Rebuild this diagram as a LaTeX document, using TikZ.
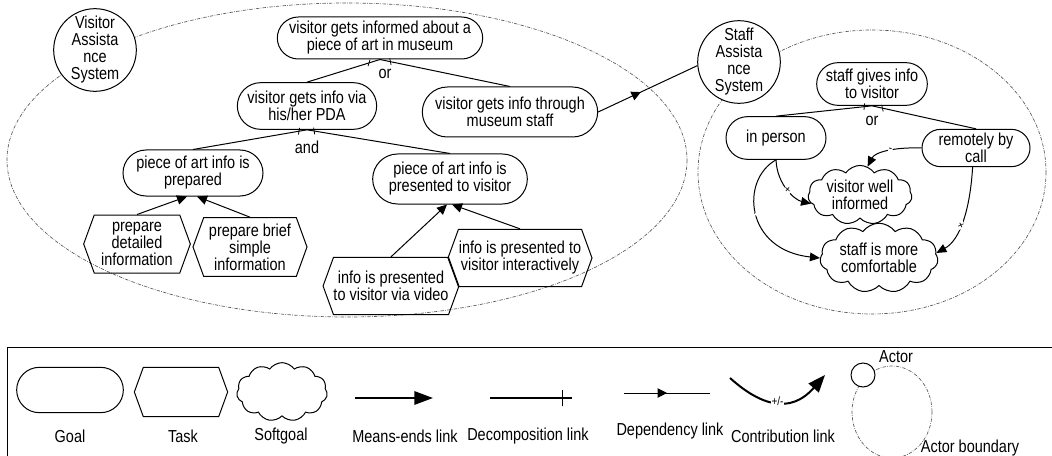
\documentclass[tikz,border=0pt]{standalone}
\usepackage{fontspec}
\setmainfont{Liberation Sans}[FakeStretch=0.835]
\usetikzlibrary{shapes.misc,shapes.symbols,arrows.meta,decorations.markings,calc}

\tikzset{every picture/.style={line width=0.75pt}}
\tikzset{
  goal/.style={draw, rounded rectangle, align=center, inner xsep=1pt, inner ysep=1pt},
  task/.style={draw, signal, signal to=west and east, signal pointer angle=140, align=center, inner xsep=0pt, inner ysep=1pt},
  softgoal/.style={draw, cloud, cloud puffs=11, cloud puff arc=110, aspect=2, align=center, inner sep=0pt},
  actor/.style={draw, circle, align=center, inner sep=0pt, fill=white},
  boundary/.style={draw=gray!70!black, line width=0.5pt, dash pattern=on 2.5pt off 1pt on 0.5pt off 1pt},
  meansend/.style={-{Triangle[length=7.5pt,width=7pt]}},
  contrib/.style={-{Triangle[length=7.5pt,width=6.5pt]}},
  depend/.style={postaction={decorate}, decoration={markings, mark=at position #1 with {\arrow{Triangle[length=7pt,width=7pt]}}}},
  tick/.style={draw, rectangle, minimum width=0pt, minimum height=5pt, inner sep=0pt, outer sep=0pt, line width=0.6pt},
  contriblabel/.style={sloped, font=\small, inner sep=0.3pt, fill=white},
}

\begin{document}
\begin{tikzpicture}[x=0.75pt,y=0.75pt,yscale=-1,xscale=1,font=\fontsize{13}{12.75}\selectfont]
\useasboundingbox (0,0) rectangle (1052,456);

%Shape: Actor boundary [Visitor Assistance System]
\draw [boundary] (347,160) ellipse [x radius=340, y radius=157];
%Shape: Actor boundary [Staff Assistance System]
\draw [boundary] (872,172) ellipse [x radius=174, y radius=142];

% Actors
\node [actor, minimum size=61.5pt] (VA) at (95,50) {Visitor\\Assista\\nce\\System};
\node [actor, minimum size=60pt] (SA) at (739,62) {Staff\\Assista\\nce\\System};

% Goals
\node [goal, minimum width=156pt, minimum height=31.5pt] (G1) at (380,38) {visitor gets informed about a\\piece of art in museum};
\node [goal, minimum width=106.5pt, minimum height=35pt] (G2) at (307,106) {visitor gets info via\\his/her PDA};
\node [goal, minimum width=133.5pt, minimum height=37.5pt] (G3) at (510,112) {visitor gets info through\\museum staff};
\node [goal, minimum width=107pt, minimum height=34.5pt] (G4) at (193,173) {piece of art info is\\prepared};
\node [goal, minimum width=118pt, minimum height=37.5pt] (G5) at (450,179) {piece of art info is\\presented to visitor};
\node [goal, minimum width=85pt, minimum height=32pt] (G6) at (872,84) {staff gives info\\to visitor};
\node [goal, minimum width=77pt, minimum height=32pt] (G7) at (776,138) {in person};
\node [goal, minimum width=83pt, minimum height=28pt] (G8) at (976,148) {remotely by\\call};

% Tasks
\node [task, minimum width=80pt, minimum height=43.5pt] (T1) at (137,244) {prepare\\detailed\\information};
\node [task, minimum width=85.5pt, minimum height=44pt] (T2) at (250,247) {prepare brief\\simple\\information};
\node [task, minimum width=99pt, minimum height=43pt] (T3) at (391,286) {info is presented\\to visitor via video};
\node [task, minimum width=108pt, minimum height=43pt] (T4) at (520,258) {info is presented to\\visitor interactively};

% Softgoals
\node [softgoal, minimum width=78pt, minimum height=41pt] (S1) at (860,195) {visitor well\\informed};
\node [softgoal, minimum width=88.5pt, minimum height=43pt] (S2) at (879,258) {staff is more\\comfortable};

% Decomposition links
\draw (G2.north) -- (G1.south) node [tick, pos=0.85, sloped] {};
\draw (G3.north) -- (G1.south) node [tick, pos=0.92, sloped] {};
\node (or1) at (385,74) {or};
\draw (G4.north) -- (G2.south) node [tick, pos=0.93, sloped] {};
\draw (G5.north) -- (G2.south) node [tick, pos=0.95, sloped] {};
\node (and1) at (307,147) {and};
\draw (G7.north) -- (G6.south) node [tick, pos=0.92, sloped] {};
\draw (G8.north) -- (G6.south) node [tick, pos=0.9, sloped] {};
\node (or2) at (872,121) {or};

% Means-ends links
\draw [meansend] (T1.north) -- ($(G4.south)+(-6,0)$);
\draw [meansend] (T2.north) -- ($(G4.south)+(4,0)$);
\draw [meansend] (T3.north) -- ($(G5.south)+(-3,0)$);
\draw [meansend] (T4.north) -- ($(G5.south)+(2,0)$);

% Dependency link
\draw [depend=0.43] (G3.east) -- (SA.185);

% Contribution links
\draw [contrib] (G7.south) .. controls (777,185) and (795,200) .. (S1.190) node [contriblabel, pos=0.5] {+};
\draw [contrib] (G7.south) .. controls (740,180) and (745,250) .. (S2.west) node [contriblabel, pos=0.5] {-};
\draw [contrib] (G8.west) .. controls (895,147) and (875,152) .. (S1.75) node [contriblabel, pos=0.45] {-};
\draw [contrib] (G8.-100) .. controls (970,210) and (960,240) .. (S2.5) node [contriblabel, pos=0.55] {+};

%Legend frame
\draw (1052,347) -- (7,347) -- (7,456);

% Legend shapes
\node [goal, minimum width=82pt, minimum height=34pt] (LG) at (70,390) {};
\node [task, minimum width=70pt, minimum height=37pt] (LT) at (181,392) {};
\node [softgoal, minimum width=68pt, minimum height=44pt] (LS) at (282,392) {};
\draw [boundary] (892,412) ellipse [x radius=40, y radius=46];
\node [actor, minimum size=18pt] (LA) at (863,375) {};

% Legend links
\coordinate (me1) at (355,398);
\coordinate (me2) at (433,398);
\draw [line width=1.5pt, -{Triangle[length=14pt,width=10pt]}] (me1) -- (me2);
\coordinate (dc1) at (490,398);
\coordinate (dc2) at (572,398);
\draw [line width=1.5pt] (dc1) -- (dc2) node [tick, pos=0.88, minimum height=12pt, line width=1pt] {};
\coordinate (dp1) at (624,393);
\coordinate (dp2) at (710,393);
\draw [depend=0.5] (dp1) -- (dp2);
\coordinate (ct1) at (730,378);
\coordinate (ct2) at (825,375);
\draw [line width=1.5pt, -{Triangle[length=13pt,width=10pt]}] (ct1) .. controls (760,405) and (790,415) .. (ct2) node [pos=0.52, font=\small, inner sep=0.5pt, fill=white] {+/-};

% Legend texts
\node (tgoal) at (70,436) {Goal};
\node (ttask) at (183,436) {Task};
\node (tsoft) at (281,436) {Softgoal};
\node (tme) at (405,436) {Means-ends link};
\node (tdc) at (528,436) {Decomposition link};
\node (tdp) at (670,431) {Dependency link};
\node (tct) at (783,436) {Contribution link};
\node (tactor) at (896,357) {Actor};
\node (tbound) at (970,448) {Actor boundary};

\end{tikzpicture}
\end{document}
